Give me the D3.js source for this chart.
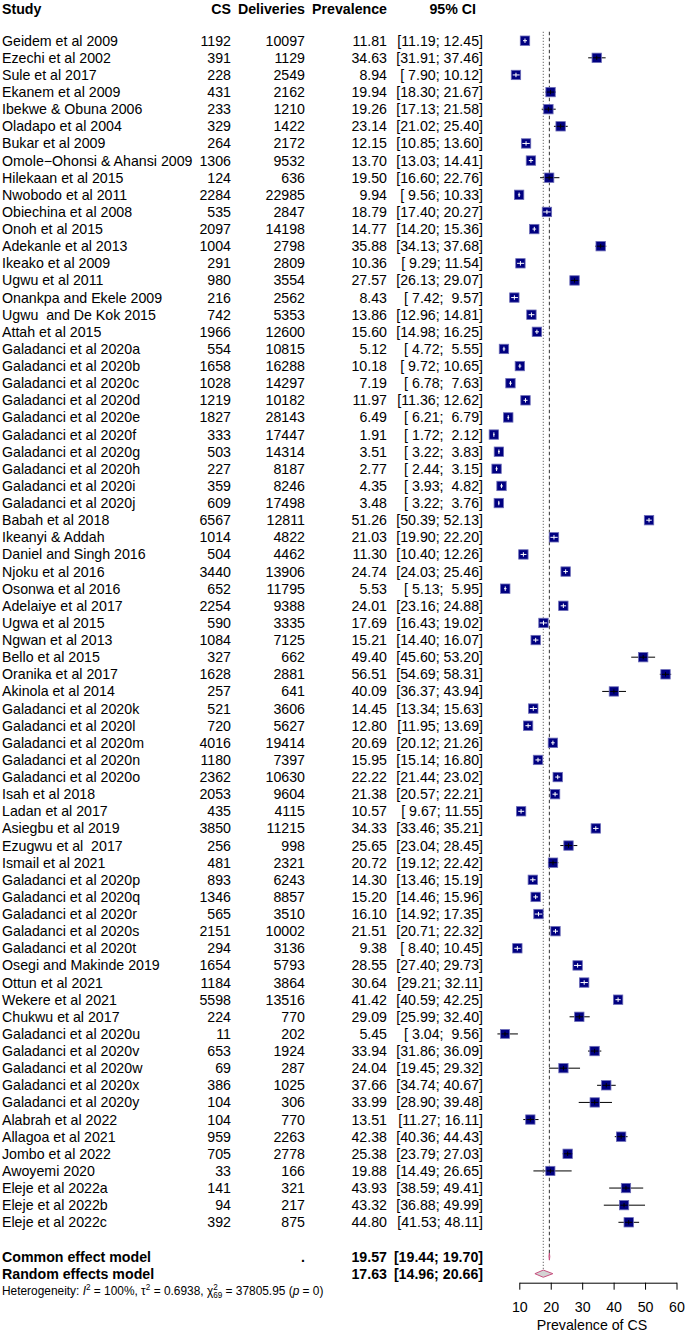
<!DOCTYPE html>
<html><head><meta charset="utf-8">
<script src="https://cdn.jsdelivr.net/npm/d3@7"></script>
<style>
body{margin:0;background:#fff;}
svg{display:block;font-family:"Liberation Sans",Arial,Helvetica,sans-serif;}
</style></head><body>
<svg id="chart" width="685" height="1332"></svg>
<script>
const studies = ["Geidem et al 2009","Ezechi et al 2002","Sule et al 2017","Ekanem et al 2009","Ibekwe & Obuna 2006","Oladapo et al 2004","Bukar et al 2009","Omole\u2212Ohonsi & Ahansi 2009","Hilekaan et al 2015","Nwobodo et al 2011","Obiechina et al 2008","Onoh et al 2015","Adekanle et al 2013","Ikeako et al 2009","Ugwu et al 2011","Onankpa and Ekele 2009","Ugwu  and De Kok 2015","Attah et al 2015","Galadanci et al 2020a","Galadanci et al 2020b","Galadanci et al 2020c","Galadanci et al 2020d","Galadanci et al 2020e","Galadanci et al 2020f","Galadanci et al 2020g","Galadanci et al 2020h","Galadanci et al 2020i","Galadanci et al 2020j","Babah et al 2018","Ikeanyi & Addah","Daniel and Singh 2016","Njoku et al 2016","Osonwa et al 2016","Adelaiye et al 2017","Ugwa et al 2015","Ngwan et al 2013","Bello et al 2015","Oranika et al 2017","Akinola et al 2014","Galadanci et al 2020k","Galadanci et al 2020l","Galadanci et al 2020m","Galadanci et al 2020n","Galadanci et al 2020o","Isah et al 2018","Ladan et al 2017","Asiegbu et al 2019","Ezugwu et al  2017","Ismail et al 2021","Galadanci et al 2020p","Galadanci et al 2020q","Galadanci et al 2020r","Galadanci et al 2020s","Galadanci et al 2020t","Osegi and Makinde 2019","Ottun et al 2021","Wekere et al 2021","Chukwu et al 2017","Galadanci et al 2020u","Galadanci et al 2020v","Galadanci et al 2020w","Galadanci et al 2020x","Galadanci et al 2020y","Alabrah et al 2022","Allagoa et al 2021","Jombo et al 2022","Awoyemi 2020","Eleje et al 2022a","Eleje et al 2022b","Eleje et al 2022c"];
const cs = [1192,391,228,431,233,329,264,1306,124,2284,535,2097,1004,291,980,216,742,1966,554,1658,1028,1219,1827,333,503,227,359,609,6567,1014,504,3440,652,2254,590,1084,327,1628,257,521,720,4016,1180,2362,2053,435,3850,256,481,893,1346,565,2151,294,1654,1184,5598,224,11,653,69,386,104,104,959,705,33,141,94,392];
const deliveries = [10097,1129,2549,2162,1210,1422,2172,9532,636,22985,2847,14198,2798,2809,3554,2562,5353,12600,10815,16288,14297,10182,28143,17447,14314,8187,8246,17498,12811,4822,4462,13906,11795,9388,3335,7125,662,2881,641,3606,5627,19414,7397,10630,9604,4115,11215,998,2321,6243,8857,3510,10002,3136,5793,3864,13516,770,202,1924,287,1025,306,770,2263,2778,166,321,217,875];
const prevalence = [11.81,34.63,8.94,19.94,19.26,23.14,12.15,13.70,19.50,9.94,18.79,14.77,35.88,10.36,27.57,8.43,13.86,15.60,5.12,10.18,7.19,11.97,6.49,1.91,3.51,2.77,4.35,3.48,51.26,21.03,11.30,24.74,5.53,24.01,17.69,15.21,49.40,56.51,40.09,14.45,12.80,20.69,15.95,22.22,21.38,10.57,34.33,25.65,20.72,14.30,15.20,16.10,21.51,9.38,28.55,30.64,41.42,29.09,5.45,33.94,24.04,37.66,33.99,13.51,42.38,25.38,19.88,43.93,43.32,44.80];
const lower = [11.19,31.91,7.90,18.30,17.13,21.02,10.85,13.03,16.60,9.56,17.40,14.20,34.13,9.29,26.13,7.42,12.96,14.98,4.72,9.72,6.78,11.36,6.21,1.72,3.22,2.44,3.93,3.22,50.39,19.90,10.40,24.03,5.13,23.16,16.43,14.40,45.60,54.69,36.37,13.34,11.95,20.12,15.14,21.44,20.57,9.67,33.46,23.04,19.12,13.46,14.46,14.92,20.71,8.40,27.40,29.21,40.59,25.99,3.04,31.86,19.45,34.74,28.90,11.27,40.36,23.79,14.49,38.59,36.88,41.53];
const upper = [12.45,37.46,10.12,21.67,21.58,25.40,13.60,14.41,22.76,10.33,20.27,15.36,37.68,11.54,29.07,9.57,14.81,16.25,5.55,10.65,7.63,12.62,6.79,2.12,3.83,3.15,4.82,3.76,52.13,22.20,12.26,25.46,5.95,24.88,19.02,16.07,53.20,58.31,43.94,15.63,13.69,21.26,16.80,23.02,22.21,11.55,35.21,28.45,22.42,15.19,15.96,17.35,22.32,10.45,29.73,32.11,42.25,32.40,9.56,36.09,29.32,40.67,39.48,16.11,44.43,27.03,26.65,49.41,49.99,48.11];

const headers = ["Study","CS","Deliveries","Prevalence","95% CI"];
const xTicks = [10,20,30,40,50,60];
const axisTitle = "Prevalence of CS";
const summaryLabels = ["Common effect model","Random effects model"];
const summaryDeliveries = [".",""];
const summaryEst = [19.57,17.63];
const summaryLower = [19.44,14.96];
const summaryUpper = [19.70,20.66];
const tau2 = 0.6938;

const FS = 14.2;
const svg = d3.select("#chart");
const n = studies.length;

const x = d3.scaleLinear().domain([10,60]).range([519.3,676.5]);
const y = d3.scaleLinear().domain([0,n-1]).range([40.7,1222.3]);
const ySum = i => y(n-1) + (i+2)*(y(1)-y(0));

const colStudy = 2, colCS = 231, colDel = 305, colPrev = 387, colCI = 483;

const pad = v => { const s = v.toFixed(2); return s.length < 5 ? " ".repeat(5-s.length)+s : s; };
const ciStr = (lo,hi) => "[" + pad(lo) + "; " + pad(hi) + "]";

// header
const hdr = svg.append("g").attr("font-size",FS).attr("font-weight","bold");
const hx = [colStudy,colCS,colDel,colPrev,colCI-7];
headers.forEach((h,i)=>{
  hdr.append("text").attr("x",hx[i]).attr("y",8.6).attr("dy","0.35em")
    .attr("text-anchor", i===0?"start":"end").text(h);
});

// rows text
const rows = svg.append("g").attr("font-size",FS).style("white-space","pre");
d3.range(n).forEach(i=>{
  const yy = y(i);
  rows.append("text").attr("x",colStudy).attr("y",yy).attr("dy","0.35em").attr("xml:space","preserve").text(studies[i]);
  rows.append("text").attr("x",colCS).attr("y",yy).attr("dy","0.35em").attr("text-anchor","end").text(cs[i]);
  rows.append("text").attr("x",colDel).attr("y",yy).attr("dy","0.35em").attr("text-anchor","end").text(deliveries[i]);
  rows.append("text").attr("x",colPrev).attr("y",yy).attr("dy","0.35em").attr("text-anchor","end").text(prevalence[i].toFixed(2));
  rows.append("text").attr("x",colCI).attr("y",yy).attr("dy","0.35em").attr("text-anchor","end").attr("xml:space","preserve").text(ciStr(lower[i],upper[i]));
});

// summary text
const sumG = svg.append("g").attr("font-size",FS).attr("font-weight","bold").style("white-space","pre");
summaryLabels.forEach((lab,i)=>{
  const yy = ySum(i);
  sumG.append("text").attr("x",colStudy).attr("y",yy).attr("dy","0.35em").text(lab);
  sumG.append("text").attr("x",colDel).attr("y",yy).attr("dy","0.35em").attr("text-anchor","end").text(summaryDeliveries[i]);
  sumG.append("text").attr("x",colPrev).attr("y",yy).attr("dy","0.35em").attr("text-anchor","end").text(summaryEst[i].toFixed(2));
  sumG.append("text").attr("x",colCI).attr("y",yy).attr("dy","0.35em").attr("text-anchor","end").attr("xml:space","preserve").text(ciStr(summaryLower[i],summaryUpper[i]));
});

// heterogeneity
const het = svg.append("text").attr("x",2).attr("y",ySum(2)).attr("dy","0.35em").attr("font-size",11.9);
het.append("tspan").text("Heterogeneity: ");
het.append("tspan").attr("font-style","italic").text("I");
het.append("tspan").attr("font-size",8.2).attr("dy",-4.5).text("2");
het.append("tspan").attr("dy",4.5).text(" = 100%, \u03C4");
het.append("tspan").attr("font-size",8.2).attr("dy",-4.5).text("2");
het.append("tspan").attr("dy",4.5).text(" = 0.6938, \u03C7");
het.append("tspan").attr("font-size",8.2).attr("dy",-5).text("2");
het.append("tspan").attr("font-size",8.2).attr("dx",-4.56).attr("dy",8.5).text("69");
het.append("tspan").attr("dy",-3.5).text(" = 37805.95 (");
het.append("tspan").attr("font-style","italic").text("p");
het.append("tspan").text(" = 0)");

// reference lines
const yTop = y(0) - 9;
svg.append("line").attr("x1",x(summaryEst[1])).attr("x2",x(summaryEst[1]))
  .attr("y1",yTop).attr("y2",ySum(1)).attr("stroke","#777").attr("stroke-width",1.1).attr("stroke-dasharray","1.2,1.8");
svg.append("line").attr("x1",x(summaryEst[0])).attr("x2",x(summaryEst[0]))
  .attr("y1",yTop).attr("y2",ySum(0)).attr("stroke","#444").attr("stroke-width",1.1).attr("stroke-dasharray","3.5,2.5");

// squares & CIs
const wts = d3.range(n).map(i=>{ const p = cs[i]/deliveries[i]; const v = 1/(deliveries[i]*p*(1-p)); return 1/(v+tau2); });
const wMax = d3.max(wts);
const maxSide = 9.4;
const marks = svg.append("g");
d3.range(n).forEach(i=>{
  const yy = y(i), cx = x(prevalence[i]);
  const s = maxSide*Math.sqrt(wts[i]/wMax);
  const x0 = x(lower[i]), x1 = x(upper[i]);
  const inside = (x0 >= cx - s/2) && (x1 <= cx + s/2);
  if(!inside){
    marks.append("line").attr("x1",x0).attr("x2",x1).attr("y1",yy).attr("y2",yy).attr("stroke","#000").attr("stroke-width",1);
  }
  marks.append("rect").attr("x",cx-s/2).attr("y",yy-s/2).attr("width",s).attr("height",s)
    .attr("fill","#000080").attr("stroke","#6c6cb8").attr("stroke-width",0.8);
  const c = inside ? "#fff" : "#000";
  marks.append("line").attr("x1",Math.max(x0,cx-s/2+1)).attr("x2",Math.min(x1,cx+s/2-1)).attr("y1",yy).attr("y2",yy).attr("stroke",c).attr("stroke-width",1);
  marks.append("line").attr("x1",cx).attr("x2",cx).attr("y1",yy-2.2).attr("y2",yy+2.2).attr("stroke",c).attr("stroke-width",1);
});

// diamonds
summaryEst.forEach((e,i)=>{
  const yy = ySum(i), h = 3.6;
  const pts = [[x(summaryLower[i]),yy],[x(e),yy-h],[x(summaryUpper[i]),yy],[x(e),yy+h]];
  svg.append("polygon").attr("points",pts.map(p=>p.join(",")).join(" "))
    .attr("fill","#d3d3d3").attr("stroke","#c8507f").attr("stroke-width",1);
});

// axis
const axisY = 1282.7;
const ax = svg.append("g").attr("transform",`translate(0,${axisY})`)
  .call(d3.axisBottom(x).tickValues(xTicks).tickSize(7).tickSizeOuter(0).tickPadding(12.5).tickFormat(d3.format("d")));
ax.select(".domain").attr("stroke","#000");
ax.selectAll(".tick line").attr("stroke","#000");
ax.selectAll("text").attr("font-size",FS).attr("font-family","Liberation Sans, Arial, sans-serif").attr("fill","#000");
svg.append("text").attr("x",592).attr("y",1329.8).attr("text-anchor","middle").attr("font-size",FS).text(axisTitle);
</script>
</body></html>
